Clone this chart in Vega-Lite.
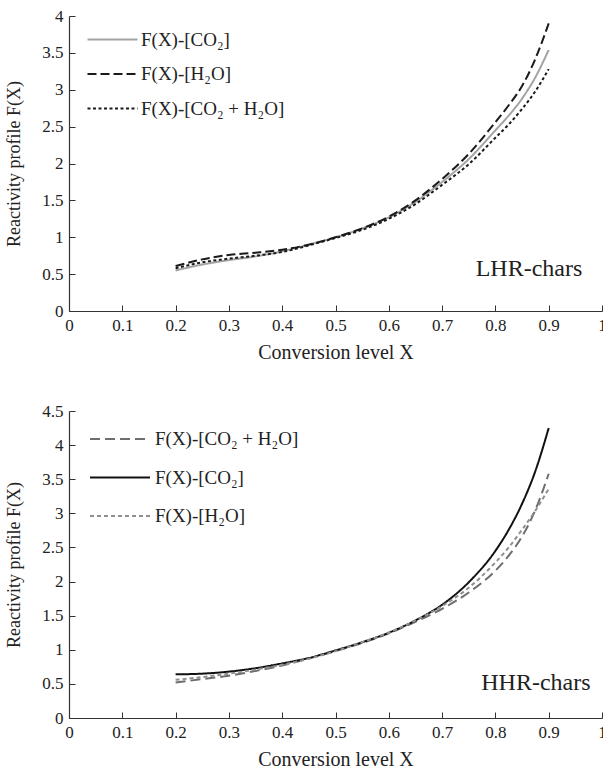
{
  "$schema": "https://vega.github.io/schema/vega-lite/v6.json",
  "background": "white",
  "padding": {"left": 5, "top": 7, "right": 0, "bottom": 0},
  "spacing": 40,
  "config": {
    "font": "Liberation Serif",
    "view": {"stroke": null},
    "axis": {
      "labelFont": "Liberation Serif", "titleFont": "Liberation Serif",
      "labelFontSize": 17, "titleFontSize": 20, "titleFontWeight": "normal",
      "labelColor": "#222", "titleColor": "#222",
      "domainColor": "#333", "tickColor": "#333", "domainWidth": 1.2,
      "grid": false, "tickSize": -6, "labelPadding": 12, "format": "~g",
      "labelFlush": false, "labelOverlap": false
    },
    "axisX": {"titlePadding": 9},
    "axisY": {"titlePadding": 18, "titleFontSize": 18},
    "legend": {
      "orient": "none", "direction": "vertical", "title": null,
      "labelFont": "Liberation Serif", "labelFontSize": 19, "labelColor": "#222",
      "symbolType": "M-2,0H2", "symbolStrokeWidth": 2, "padding": 0
    }
  },
  "datasets": {
    "lhr": [
      {"series": "F(X)-[CO₂]", "X": 0.2, "F": 0.55}, {"series": "F(X)-[CO₂]", "X": 0.25, "F": 0.63}, {"series": "F(X)-[CO₂]", "X": 0.3, "F": 0.69}, {"series": "F(X)-[CO₂]", "X": 0.35, "F": 0.74}, {"series": "F(X)-[CO₂]", "X": 0.4, "F": 0.81}, {"series": "F(X)-[CO₂]", "X": 0.45, "F": 0.9}, {"series": "F(X)-[CO₂]", "X": 0.5, "F": 1.0}, {"series": "F(X)-[CO₂]", "X": 0.55, "F": 1.12}, {"series": "F(X)-[CO₂]", "X": 0.6, "F": 1.27}, {"series": "F(X)-[CO₂]", "X": 0.65, "F": 1.48}, {"series": "F(X)-[CO₂]", "X": 0.7, "F": 1.75}, {"series": "F(X)-[CO₂]", "X": 0.75, "F": 2.06}, {"series": "F(X)-[CO₂]", "X": 0.8, "F": 2.45}, {"series": "F(X)-[CO₂]", "X": 0.825, "F": 2.65}, {"series": "F(X)-[CO₂]", "X": 0.85, "F": 2.88}, {"series": "F(X)-[CO₂]", "X": 0.875, "F": 3.17}, {"series": "F(X)-[CO₂]", "X": 0.9, "F": 3.54},
      {"series": "F(X)-[H₂O]", "X": 0.2, "F": 0.61}, {"series": "F(X)-[H₂O]", "X": 0.25, "F": 0.7}, {"series": "F(X)-[H₂O]", "X": 0.3, "F": 0.76}, {"series": "F(X)-[H₂O]", "X": 0.35, "F": 0.79}, {"series": "F(X)-[H₂O]", "X": 0.4, "F": 0.83}, {"series": "F(X)-[H₂O]", "X": 0.45, "F": 0.9}, {"series": "F(X)-[H₂O]", "X": 0.5, "F": 1.0}, {"series": "F(X)-[H₂O]", "X": 0.55, "F": 1.12}, {"series": "F(X)-[H₂O]", "X": 0.6, "F": 1.28}, {"series": "F(X)-[H₂O]", "X": 0.65, "F": 1.5}, {"series": "F(X)-[H₂O]", "X": 0.7, "F": 1.79}, {"series": "F(X)-[H₂O]", "X": 0.75, "F": 2.13}, {"series": "F(X)-[H₂O]", "X": 0.8, "F": 2.56}, {"series": "F(X)-[H₂O]", "X": 0.825, "F": 2.79}, {"series": "F(X)-[H₂O]", "X": 0.85, "F": 3.05}, {"series": "F(X)-[H₂O]", "X": 0.875, "F": 3.42}, {"series": "F(X)-[H₂O]", "X": 0.9, "F": 3.9},
      {"series": "F(X)-[CO₂ + H₂O]", "X": 0.2, "F": 0.58}, {"series": "F(X)-[CO₂ + H₂O]", "X": 0.25, "F": 0.66}, {"series": "F(X)-[CO₂ + H₂O]", "X": 0.3, "F": 0.71}, {"series": "F(X)-[CO₂ + H₂O]", "X": 0.35, "F": 0.75}, {"series": "F(X)-[CO₂ + H₂O]", "X": 0.4, "F": 0.8}, {"series": "F(X)-[CO₂ + H₂O]", "X": 0.45, "F": 0.89}, {"series": "F(X)-[CO₂ + H₂O]", "X": 0.5, "F": 0.99}, {"series": "F(X)-[CO₂ + H₂O]", "X": 0.55, "F": 1.1}, {"series": "F(X)-[CO₂ + H₂O]", "X": 0.6, "F": 1.25}, {"series": "F(X)-[CO₂ + H₂O]", "X": 0.65, "F": 1.45}, {"series": "F(X)-[CO₂ + H₂O]", "X": 0.7, "F": 1.71}, {"series": "F(X)-[CO₂ + H₂O]", "X": 0.75, "F": 1.99}, {"series": "F(X)-[CO₂ + H₂O]", "X": 0.8, "F": 2.35}, {"series": "F(X)-[CO₂ + H₂O]", "X": 0.825, "F": 2.53}, {"series": "F(X)-[CO₂ + H₂O]", "X": 0.85, "F": 2.74}, {"series": "F(X)-[CO₂ + H₂O]", "X": 0.875, "F": 2.98}, {"series": "F(X)-[CO₂ + H₂O]", "X": 0.9, "F": 3.28}
    ],
    "hhr": [
      {"series": "F(X)-[CO₂ + H₂O]", "X": 0.2, "F": 0.52}, {"series": "F(X)-[CO₂ + H₂O]", "X": 0.25, "F": 0.57}, {"series": "F(X)-[CO₂ + H₂O]", "X": 0.3, "F": 0.62}, {"series": "F(X)-[CO₂ + H₂O]", "X": 0.35, "F": 0.69}, {"series": "F(X)-[CO₂ + H₂O]", "X": 0.4, "F": 0.77}, {"series": "F(X)-[CO₂ + H₂O]", "X": 0.45, "F": 0.87}, {"series": "F(X)-[CO₂ + H₂O]", "X": 0.5, "F": 0.98}, {"series": "F(X)-[CO₂ + H₂O]", "X": 0.55, "F": 1.1}, {"series": "F(X)-[CO₂ + H₂O]", "X": 0.6, "F": 1.24}, {"series": "F(X)-[CO₂ + H₂O]", "X": 0.65, "F": 1.41}, {"series": "F(X)-[CO₂ + H₂O]", "X": 0.7, "F": 1.6}, {"series": "F(X)-[CO₂ + H₂O]", "X": 0.75, "F": 1.84}, {"series": "F(X)-[CO₂ + H₂O]", "X": 0.8, "F": 2.16}, {"series": "F(X)-[CO₂ + H₂O]", "X": 0.825, "F": 2.38}, {"series": "F(X)-[CO₂ + H₂O]", "X": 0.85, "F": 2.66}, {"series": "F(X)-[CO₂ + H₂O]", "X": 0.875, "F": 3.05}, {"series": "F(X)-[CO₂ + H₂O]", "X": 0.9, "F": 3.58},
      {"series": "F(X)-[CO₂]", "X": 0.2, "F": 0.64}, {"series": "F(X)-[CO₂]", "X": 0.25, "F": 0.65}, {"series": "F(X)-[CO₂]", "X": 0.3, "F": 0.68}, {"series": "F(X)-[CO₂]", "X": 0.35, "F": 0.73}, {"series": "F(X)-[CO₂]", "X": 0.4, "F": 0.8}, {"series": "F(X)-[CO₂]", "X": 0.45, "F": 0.88}, {"series": "F(X)-[CO₂]", "X": 0.5, "F": 0.99}, {"series": "F(X)-[CO₂]", "X": 0.55, "F": 1.11}, {"series": "F(X)-[CO₂]", "X": 0.6, "F": 1.25}, {"series": "F(X)-[CO₂]", "X": 0.65, "F": 1.43}, {"series": "F(X)-[CO₂]", "X": 0.7, "F": 1.66}, {"series": "F(X)-[CO₂]", "X": 0.75, "F": 1.99}, {"series": "F(X)-[CO₂]", "X": 0.8, "F": 2.45}, {"series": "F(X)-[CO₂]", "X": 0.825, "F": 2.76}, {"series": "F(X)-[CO₂]", "X": 0.85, "F": 3.14}, {"series": "F(X)-[CO₂]", "X": 0.875, "F": 3.62}, {"series": "F(X)-[CO₂]", "X": 0.9, "F": 4.25},
      {"series": "F(X)-[H₂O]", "X": 0.2, "F": 0.56}, {"series": "F(X)-[H₂O]", "X": 0.25, "F": 0.6}, {"series": "F(X)-[H₂O]", "X": 0.3, "F": 0.65}, {"series": "F(X)-[H₂O]", "X": 0.35, "F": 0.71}, {"series": "F(X)-[H₂O]", "X": 0.4, "F": 0.78}, {"series": "F(X)-[H₂O]", "X": 0.45, "F": 0.87}, {"series": "F(X)-[H₂O]", "X": 0.5, "F": 0.98}, {"series": "F(X)-[H₂O]", "X": 0.55, "F": 1.11}, {"series": "F(X)-[H₂O]", "X": 0.6, "F": 1.25}, {"series": "F(X)-[H₂O]", "X": 0.65, "F": 1.43}, {"series": "F(X)-[H₂O]", "X": 0.7, "F": 1.64}, {"series": "F(X)-[H₂O]", "X": 0.75, "F": 1.91}, {"series": "F(X)-[H₂O]", "X": 0.8, "F": 2.28}, {"series": "F(X)-[H₂O]", "X": 0.825, "F": 2.5}, {"series": "F(X)-[H₂O]", "X": 0.85, "F": 2.76}, {"series": "F(X)-[H₂O]", "X": 0.875, "F": 3.04}, {"series": "F(X)-[H₂O]", "X": 0.9, "F": 3.36}
    ],
    "lhrLabel": [{"X": 0.863, "F": 0.57, "label": "LHR-chars"}],
    "hhrLabel": [{"X": 0.876, "F": 0.51, "label": "HHR-chars"}]
  },
  "resolve": {"scale": {"color": "independent", "strokeDash": "independent"}, "legend": {"color": "independent", "strokeDash": "independent"}},
  "vconcat": [
    {
      "width": 533, "height": 295,
      "encoding": {
        "x": {"field": "X", "type": "quantitative", "scale": {"domain": [0, 1]}, "axis": {"title": "Conversion level X", "values": [0, 0.1, 0.2, 0.3, 0.4, 0.5, 0.6, 0.7, 0.8, 0.9, 1]}},
        "y": {"field": "F", "type": "quantitative", "scale": {"domain": [0, 4]}, "axis": {"title": "Reactivity profile F(X)", "values": [0, 0.5, 1, 1.5, 2, 2.5, 3, 3.5, 4]}}
      },
      "layer": [
        {
          "data": {"name": "lhr"},
          "mark": {"type": "line", "strokeWidth": 2, "interpolate": "monotone"},
          "encoding": {
            "color": {"field": "series", "type": "nominal", "scale": {"domain": ["F(X)-[CO₂]", "F(X)-[H₂O]", "F(X)-[CO₂ + H₂O]"], "range": ["#a3a3a3", "#1a1a1a", "#1a1a1a"]}, "legend": {"legendX": 30, "legendY": 10, "symbolSize": 625, "labelOffset": 15, "rowPadding": 10.5}},
            "strokeDash": {"field": "series", "type": "nominal", "scale": {"domain": ["F(X)-[CO₂]", "F(X)-[H₂O]", "F(X)-[CO₂ + H₂O]"], "range": [[1, 0], [9, 4], [3, 2.5]]}, "legend": {"legendX": 30, "legendY": 10, "symbolSize": 625, "labelOffset": 15, "rowPadding": 10.5}}
          }
        },
        {
          "data": {"name": "lhrLabel"},
          "mark": {"type": "text", "fontSize": 24, "font": "Liberation Serif", "color": "#222", "align": "center", "baseline": "middle"},
          "encoding": {"text": {"field": "label"}}
        }
      ]
    },
    {
      "width": 533, "height": 307,
      "encoding": {
        "x": {"field": "X", "type": "quantitative", "scale": {"domain": [0, 1]}, "axis": {"title": "Conversion level X", "values": [0, 0.1, 0.2, 0.3, 0.4, 0.5, 0.6, 0.7, 0.8, 0.9, 1]}},
        "y": {"field": "F", "type": "quantitative", "scale": {"domain": [0, 4.5]}, "axis": {"title": "Reactivity profile F(X)", "values": [0, 0.5, 1, 1.5, 2, 2.5, 3, 3.5, 4, 4.5]}}
      },
      "layer": [
        {
          "data": {"name": "hhr"},
          "mark": {"type": "line", "strokeWidth": 2, "interpolate": "monotone"},
          "encoding": {
            "color": {"field": "series", "type": "nominal", "scale": {"domain": ["F(X)-[CO₂ + H₂O]", "F(X)-[CO₂]", "F(X)-[H₂O]"], "range": ["#6e6e6e", "#111111", "#8f8f8f"]}, "legend": {"legendX": 35, "legendY": 12, "symbolSize": 900, "labelOffset": 19, "rowPadding": 12.5}},
            "strokeDash": {"field": "series", "type": "nominal", "scale": {"domain": ["F(X)-[CO₂ + H₂O]", "F(X)-[CO₂]", "F(X)-[H₂O]"], "range": [[10, 5], [1, 0], [4, 3]]}, "legend": {"legendX": 35, "legendY": 12, "symbolSize": 900, "labelOffset": 19, "rowPadding": 12.5}}
          }
        },
        {
          "data": {"name": "hhrLabel"},
          "mark": {"type": "text", "fontSize": 24, "font": "Liberation Serif", "color": "#222", "align": "center", "baseline": "middle"},
          "encoding": {"text": {"field": "label"}}
        }
      ]
    }
  ]
}
